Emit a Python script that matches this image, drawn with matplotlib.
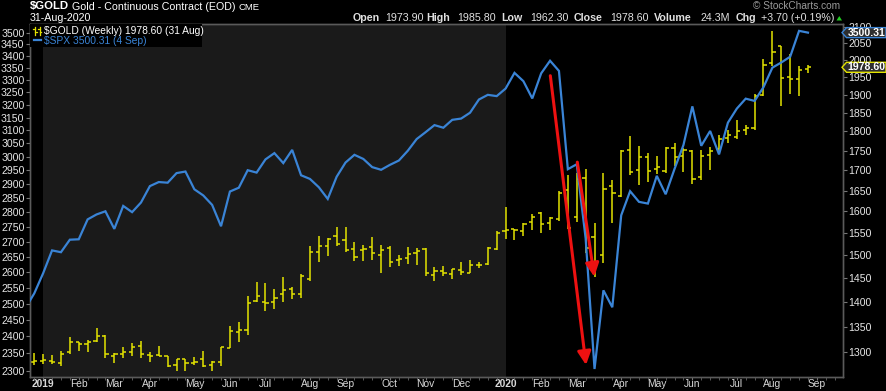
import matplotlib
matplotlib.use("Agg")
import matplotlib.pyplot as plt
import numpy as np
import pandas as pd
from matplotlib.lines import Line2D
from matplotlib.patches import Polygon, Rectangle
from matplotlib.ticker import FixedLocator, FuncFormatter, NullLocator, NullFormatter
from matplotlib.transforms import IdentityTransform

plt.rcParams["font.family"] = ["Liberation Sans", "DejaVu Sans"]

W, H = 887, 391

# weekly bars, dated by the Monday of the week (24 Dec 2018 sits just left of the frame)
weeks = pd.date_range("2018-12-24", "2020-08-31", freq="W-MON")

spx_close = [
    2485.74, 2531.94, 2596.26, 2670.71, 2664.76, 2706.53, 2707.88, 2775.60, 2792.67,
    2803.69, 2743.07, 2822.48, 2800.71, 2834.40, 2892.74, 2907.41, 2905.03, 2939.88,
    2945.64, 2881.40, 2859.53, 2826.06, 2752.06, 2873.34, 2886.98, 2950.46, 2941.76,
    2990.41, 3013.77, 2976.61, 3025.86, 2932.05, 2918.65, 2888.68, 2847.11, 2926.46,
    2978.71, 3007.39, 2992.07, 2961.79, 2952.01, 2970.27, 2986.20, 3022.55, 3066.91,
    3093.08, 3120.46, 3110.29, 3140.98, 3145.91, 3168.80, 3221.22, 3240.02, 3234.85,
    3265.35, 3329.62, 3295.47, 3225.52, 3327.71, 3380.16, 3337.75, 2954.22, 2972.37,
    2711.02, 2304.92, 2541.47, 2488.65, 2789.82, 2874.56, 2836.74, 2830.71, 2929.80,
    2863.70, 2955.45, 3044.31, 3193.93, 3041.31, 3097.74, 3009.05, 3130.01, 3185.04,
    3224.73, 3215.63, 3271.12, 3351.28, 3372.85, 3397.16, 3508.01, 3500.31,
]

gold_open = [
    1281, 1284, 1284, 1279, 1300, 1319, 1316, 1322, 1331, 1293, 1297, 1301, 1312, 1294,
    1294, 1293, 1276, 1287, 1279, 1287, 1276, 1281, 1309, 1339, 1343, 1401, 1399, 1399,
    1416, 1426, 1416, 1448, 1506, 1520, 1542, 1533, 1513, 1511, 1518, 1500, 1515, 1489,
    1493, 1504, 1514, 1456, 1465, 1459, 1467, 1461, 1478, 1480, 1513, 1555, 1558, 1555,
    1576, 1596, 1574, 1581, 1651, 1587, 1680, 1540, 1500, 1662, 1637, 1752, 1700, 1734,
    1703, 1697, 1756, 1735, 1750, 1683, 1739, 1755, 1784, 1786, 1805, 1808, 1899, 1992,
    2042, 1951, 1944, 1973.90,
]
gold_high = [
    1298, 1297, 1295, 1302, 1330, 1320, 1324, 1347, 1334, 1298, 1310, 1317, 1322, 1301,
    1312, 1293, 1288, 1288, 1290, 1302, 1284, 1311, 1351, 1359, 1412, 1442, 1439, 1426,
    1452, 1431, 1459, 1520, 1543, 1538, 1563, 1563, 1530, 1523, 1541, 1523, 1520, 1500,
    1518, 1516, 1515, 1473, 1476, 1469, 1486, 1489, 1484, 1518, 1554, 1610, 1560, 1573,
    1593, 1598, 1587, 1648, 1688, 1692, 1704, 1574, 1694, 1675, 1752, 1787, 1761, 1743,
    1737, 1760, 1770, 1757, 1752, 1751, 1759, 1792, 1804, 1831, 1818, 1902, 2002, 2088,
    2043, 2019, 1981, 1985.80,
]
gold_low = [
    1275, 1277, 1277, 1273, 1296, 1303, 1301, 1320, 1289, 1279, 1289, 1292, 1289, 1282,
    1292, 1272, 1265, 1265, 1275, 1272, 1265, 1273, 1308, 1320, 1334, 1399, 1382, 1385,
    1399, 1407, 1409, 1445, 1486, 1499, 1521, 1508, 1488, 1488, 1489, 1462, 1475, 1477,
    1481, 1479, 1454, 1443, 1454, 1448, 1456, 1461, 1471, 1478, 1511, 1537, 1535, 1542,
    1557, 1549, 1557, 1578, 1560, 1576, 1504, 1452, 1482, 1572, 1635, 1687, 1663, 1672,
    1690, 1692, 1710, 1696, 1667, 1677, 1700, 1741, 1770, 1779, 1790, 1804, 1897, 1981,
    1869, 1903, 1897, 1962.30,
]
gold_close = [
    1283, 1285, 1281, 1297, 1319, 1316, 1320, 1331, 1296, 1296, 1301, 1311, 1297, 1293,
    1293, 1274, 1287, 1280, 1282, 1274, 1281, 1310, 1342, 1343, 1397, 1412, 1397, 1409,
    1424, 1416, 1454, 1506, 1520, 1536, 1526, 1512, 1497, 1513, 1504, 1511, 1486, 1491,
    1502, 1509, 1461, 1466, 1461, 1469, 1464, 1478, 1478, 1515, 1549, 1556, 1557, 1570,
    1586, 1570, 1584, 1645, 1562, 1678, 1516, 1484, 1654, 1645, 1749, 1696, 1734, 1697,
    1708, 1756, 1733, 1751, 1678, 1736, 1749, 1781, 1790, 1800, 1810, 1897, 1984, 2025,
    1948, 1945, 1972, 1978.60,
]

spx_ticks = list(range(2300, 3501, 50))
gold_ticks = list(range(1300, 2101, 50))

YELLOW = "#e3e300"
BLUE = "#3a84d6"
GREY_BG = "#1a1a1a"
TXT = "#e6e6e6"

bar_x = np.arange(len(weeks)) - 1          # -1 .. 87
gold_x = bar_x[1:]

fig = plt.figure(figsize=(W / 100, H / 100), dpi=100, facecolor="black")
ax = fig.add_axes([30 / W, (H - 376.7) / H, 813 / W, 352.7 / H])
ax.set_facecolor("black")

# year 2019 shading: from the first Monday of 2019 to the first Monday of 2020
axis_weeks = pd.date_range("2018-12-31", periods=92, freq="W-MON")
first_2019 = int(np.argmax(axis_weeks.year == 2019))
first_2020 = int(np.argmax(axis_weeks.year == 2020))
ax.axvspan(first_2019, first_2020, color=GREY_BG, lw=0, zorder=0)

# gold OHLC bars (right axis, log)
ax.set_yscale("log")
go = np.array(gold_open); gc = np.array(gold_close)
ax.vlines(gold_x, gold_low, gold_high, color=YELLOW, lw=1.1, zorder=2)
ax.hlines(go, gold_x - 0.36, gold_x, color=YELLOW, lw=1.1, zorder=2)
ax.hlines(gc, gold_x, gold_x + 0.36, color=YELLOW, lw=1.1, zorder=2)
ax.set_ylim(1254, 2109)

# S&P 500 line (left axis, log)
ax2 = ax.twinx()
ax2.set_yscale("log")
ax2.plot(bar_x, spx_close, color=BLUE, lw=1.6, zorder=3, solid_joinstyle="miter")
ax2.set_ylim(2283, 3538)

# twinx moved the gold ticks to the left: put them back on the right
ax.yaxis.tick_right()
ax.yaxis.set_label_position("right")
ax2.yaxis.tick_left()
ax2.yaxis.set_label_position("left")
for a, ticks in ((ax, gold_ticks), (ax2, spx_ticks)):
    a.yaxis.set_major_locator(FixedLocator(ticks))
    a.yaxis.set_major_formatter(FuncFormatter(lambda v, p: f"{v:.0f}"))
    a.yaxis.set_minor_locator(NullLocator())
    a.yaxis.set_minor_formatter(NullFormatter())

ax.set_xlim(-0.48, 90.94)

# month labels at the first weekly bar of each month
tick_pos, tick_lab = [], []
for i in range(1, len(axis_weeks)):
    if axis_weeks[i].month != axis_weeks[i - 1].month and i <= 90:
        tick_pos.append(i)
        d = axis_weeks[i]
        tick_lab.append(str(d.year) if d.month == 1 else d.strftime("%b"))
ax.set_xticks(tick_pos)
ax.set_xticklabels(tick_lab)
ax.set_xticks(np.arange(0, 91), minor=True)
for t in ax.get_xticklabels():
    if t.get_text().isdigit():
        t.set_fontweight("bold")
        t.set_color("white")

for a in (ax, ax2):
    for s in a.spines.values():
        s.set_color("#5a5a5a")
        s.set_linewidth(1.0)
    a.tick_params(axis="y", which="major", length=3, width=0.8, color="#777777",
                  labelcolor=TXT, labelsize=7.6, pad=1)
ax.tick_params(axis="x", which="major", length=2, width=0.8, color="#777777",
               labelcolor="#d8d8d8", labelsize=7.4, pad=0)
ax.tick_params(axis="x", which="minor", length=2, width=0.6, color="#666666")

# legend box top-left
ax2.add_patch(Rectangle((0, (376.7 - 47) / 352.7), (202 - 30) / 813, 1, transform=ax2.transAxes,
                        facecolor="black", edgecolor="none", zorder=5))


def pix_line(xs, ys, **kw):
    fig.add_artist(Line2D(xs, [H - y for y in ys], transform=IdentityTransform(), **kw))


def ftext(x, y, s, **kw):
    fig.text(x / W, 1 - y / H, s, va="center", **kw)


ftext(44, 31, f"$GOLD (Weekly) {gold_close[-1]:.2f} (31 Aug)", color="white", fontsize=7.4, zorder=6)
ftext(44, 41.5, f"$SPX {spx_close[-1]:.2f} (4 Sep)", color=BLUE, fontsize=7.4, zorder=6)
for bx in (35, 39.5):
    pix_line([bx, bx], [27, 35], color=YELLOW, lw=0.9, zorder=6)
    pix_line([bx - 1.6, bx], [29, 29], color=YELLOW, lw=0.9, zorder=6)
    pix_line([bx, bx + 1.6], [32, 32], color=YELLOW, lw=0.9, zorder=6)
pix_line([34, 41], [39.5, 39.5], color=BLUE, lw=1.6, zorder=6)

# header
ftext(30, 6.5, "$GOLD", color="white", fontsize=8.2, fontweight="bold")
ftext(72.5, 6.5, "Gold - Continuous Contract (EOD)", color="white", fontsize=7.7)
ftext(239, 7, "CME", color="white", fontsize=6.8)
ftext(30, 18, "31-Aug-2020", color="white", fontsize=7.7)
ftext(753, 6.3, "\u00a9 StockCharts.com", color="#9a9a9a", fontsize=7.3)
quote = [("Open", 352.7, True), ("1973.90", 385, False), ("High", 426.7, True),
         ("1985.80", 457.3, False), ("Low", 501.7, True), ("1962.30", 530, False),
         ("Close", 574, True), ("1978.60", 610, False), ("Volume", 654, True),
         ("24.3M", 700.7, False), ("Chg", 736, True), ("+3.70 (+0.19%)", 760.7, False)]
for s, x, b in quote:
    ftext(x, 18, s, color="#e0e0e0", fontsize=7.7, fontweight="bold" if b else "normal")
fig.add_artist(Polygon([[836.5, H - 20.5], [842, H - 20.5], [839.25, H - 16]], closed=True,
                       transform=IdentityTransform(), facecolor="#22cc22", edgecolor="none"))


# last-value tags on the right
def value_tag(axis, value, edge):
    yd = axis.transData.transform((0, value))[1]
    pts = [[842, yd], [846.5, yd + 5], [886, yd + 5], [886, yd - 5], [846.5, yd - 5]]
    fig.add_artist(Polygon(pts, closed=True, transform=IdentityTransform(),
                           facecolor="#2e2e2e", edgecolor=edge, lw=1.0, zorder=8))
    fig.text(866.5 / W, yd / H, f"{value:.2f}", ha="center", va="center", color="white",
             fontsize=7.6, fontweight="bold", zorder=9)


value_tag(ax2, spx_close[-1], BLUE)
value_tag(ax, gold_close[-1], YELLOW)

# hand-drawn red arrows
for start, tip in [((0.6400, 0.8534), (0.6839, 0.0332)), ((0.6732, 0.6083), (0.6941, 0.2835))]:
    ax2.annotate("", xy=tip, xytext=start, xycoords="axes fraction", textcoords="axes fraction",
                 arrowprops=dict(arrowstyle="-|>", color="#ee1111", lw=2.2, mutation_scale=20,
                                 shrinkA=0, shrinkB=0), zorder=7)

fig.savefig("out.png", dpi=100, facecolor="black")
